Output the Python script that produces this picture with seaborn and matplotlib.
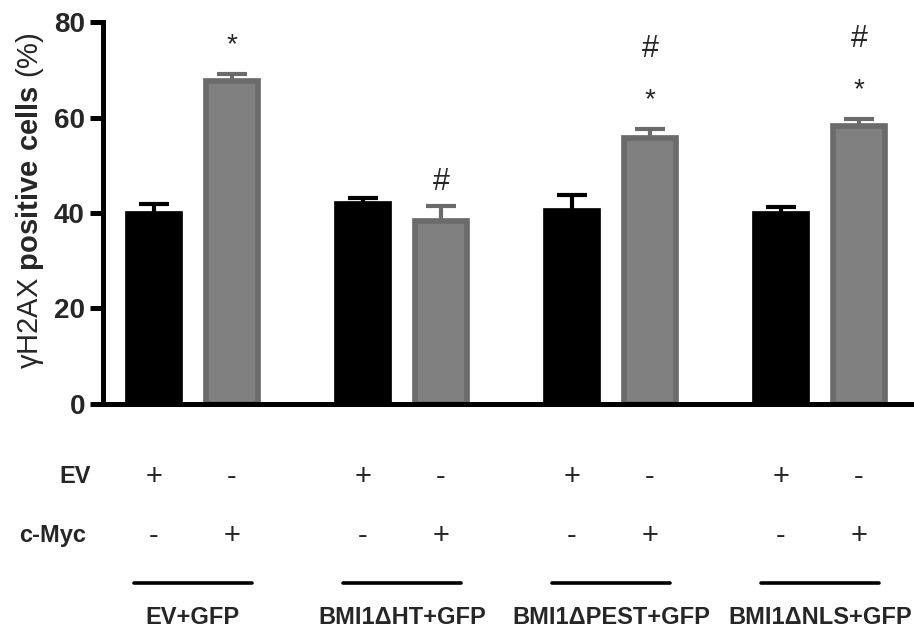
import matplotlib
matplotlib.use("Agg")
import matplotlib.pyplot as plt
import pandas as pd
import seaborn as sns

# values (mean and upper error of each bar)
groups = ["EV+GFP", "BMI1\u0394HT+GFP", "BMI1\u0394PEST+GFP", "BMI1\u0394NLS+GFP"]
treatments = ["EV", "c-Myc"]
ev_mean = [39.8, 41.8, 40.4, 39.8]
ev_err = [2.0, 1.3, 3.4, 1.4]
myc_mean = [67.6, 38.4, 55.7, 58.2]
myc_err = [1.5, 3.1, 1.9, 1.5]
myc_star = ["*", "", "*", "*"]
myc_hash = ["", "#", "#", "#"]
ev_signs = ["+", "-"]
myc_signs = ["-", "+"]
yticks = [0, 20, 40, 60, 80]

df = pd.DataFrame({
    "group": groups * 2,
    "treatment": ["EV"] * 4 + ["c-Myc"] * 4,
    "value": ev_mean + myc_mean,
})
errs = {"EV": ev_err, "c-Myc": myc_err}

sns.set_style("ticks")
plt.rcParams["font.family"] = ["Liberation Sans", "DejaVu Sans"]
plt.rcParams["mathtext.fontset"] = "custom"
plt.rcParams["mathtext.rm"] = "Liberation Sans"
plt.rcParams["mathtext.bf"] = "Liberation Sans:bold"

fill = {"EV": "#000000", "c-Myc": "#808080"}
edge = {"EV": "#000000", "c-Myc": "#6b6b6b"}

fig = plt.figure(figsize=(9.14, 6.32), dpi=100)
ax = fig.add_axes([0.1127, 0.361, 0.886, 0.604])

sns.barplot(data=df, x="group", y="value", hue="treatment",
            order=groups, hue_order=treatments,
            palette=[fill[t] for t in treatments], saturation=1,
            width=0.75, gap=0.336, errorbar=None, legend=False, ax=ax)

for cont, t in zip(ax.containers, treatments):
    for i, bar in enumerate(cont):
        bar.set_edgecolor(edge[t])
        bar.set_linewidth(4.1)
        xc = bar.get_x() + bar.get_width() / 2
        top = bar.get_height()
        eb = ax.errorbar(xc, top, yerr=[[0], [errs[t][i]]], fmt="none",
                         ecolor=edge[t], elinewidth=3, capsize=10.5, capthick=3,
                         zorder=3)
        eb[1][0].set_visible(False)
        cap = top + errs[t][i]
        if t == "c-Myc":
            if myc_star[i]:
                ax.annotate(myc_star[i], (xc, cap), xytext=(0, 22),
                            textcoords="offset pixels", ha="center",
                            va="baseline", fontsize=20, annotation_clip=False)
            if myc_hash[i]:
                off = 72 if myc_star[i] else 16
                ax.annotate(myc_hash[i], (xc, cap), xytext=(0, off),
                            textcoords="offset pixels", ha="center",
                            va="baseline", fontsize=22, annotation_clip=False)

ax.set_ylim(0, 80)
ax.set_xlim(-0.43, 3.445)
ax.set_yticks(yticks)
ax.set_yticklabels([str(v) for v in yticks], fontsize=20, fontweight="bold")
ax.tick_params(axis="y", width=3.6, length=9.5, pad=3.5, color="black")
ax.set_xticks([])
ax.set_xlabel("")
for s in ["left", "bottom"]:
    ax.spines[s].set_linewidth(3.6)
    ax.spines[s].set_color("black")
sns.despine(ax=ax)

ax.set_ylabel("\u03b3H2AX $\\mathbf{positive\\ cells}$ (%)", fontsize=21)
ax.yaxis.set_label_coords(-0.07, 0.533)

# treatment table below the axis
tr = ax.get_xaxis_transform()
ax.text(-0.49, -0.191, "EV", transform=tr, ha="right", va="center",
        fontsize=17, fontweight="bold")
ax.text(-0.51, -0.3455, "c-Myc", transform=tr, ha="right", va="center",
        fontsize=17, fontweight="bold")
for g in range(len(groups)):
    for k, off in enumerate([-0.1875, 0.1875]):
        ax.text(g + off, -0.191, ev_signs[k], transform=tr, ha="center",
                va="center", fontsize=21)
        ax.text(g + off, -0.3455, myc_signs[k], transform=tr, ha="center",
                va="center", fontsize=21)
    ax.plot([g - 0.282, g + 0.282], [-0.4686, -0.4686], transform=tr,
            color="black", lw=2.6, solid_capstyle="round", clip_on=False)
    ax.text(g, -0.56, groups[g], transform=tr, ha="center", va="center",
            fontsize=17, fontweight="bold")

fig.savefig("out.png", dpi=100)
